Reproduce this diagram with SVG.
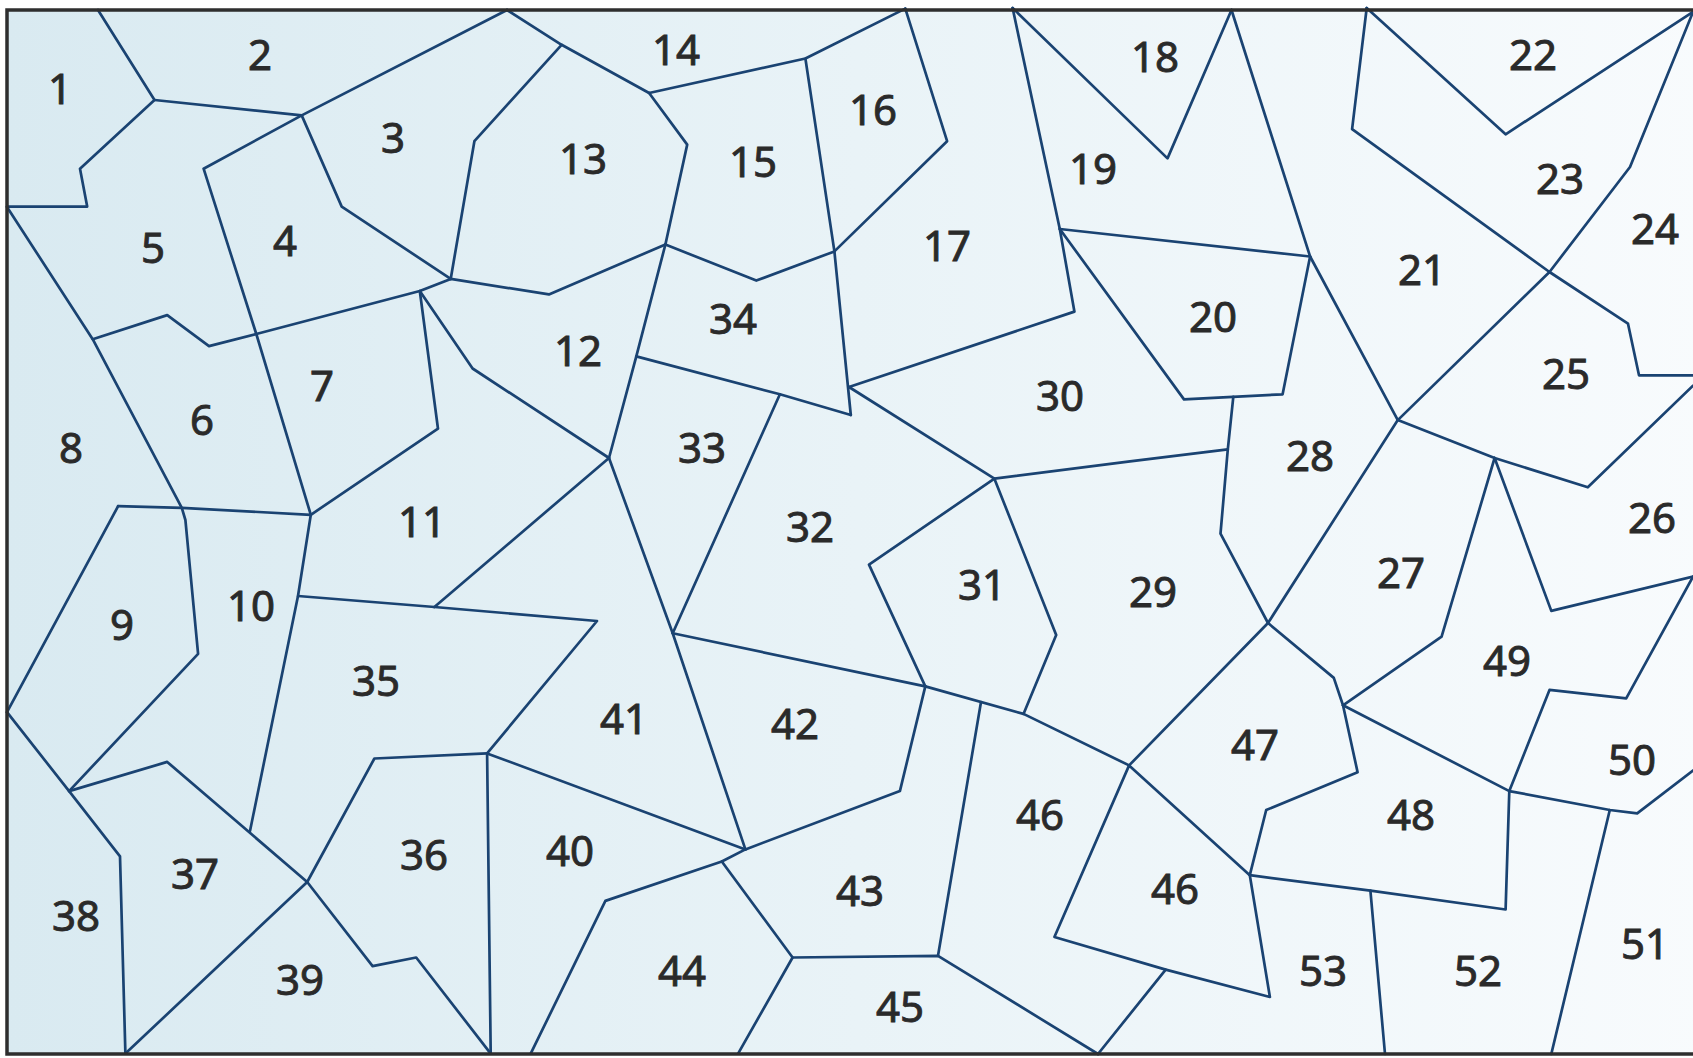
<svg xmlns="http://www.w3.org/2000/svg" width="1693" height="1058" viewBox="0 0 1693 1058">
<defs>
<linearGradient id="bg" x1="0" y1="0" x2="1" y2="0">
<stop offset="0" stop-color="#d9eaf1"/>
<stop offset="0.5" stop-color="#e9f3f7"/>
<stop offset="1" stop-color="#f8fbfd"/>
</linearGradient>
</defs>
<style>
.b{fill:none;stroke:#1a4372;stroke-width:2.7;stroke-linejoin:round;stroke-linecap:round}
.f{fill:none;stroke:#2e2e2e;stroke-width:3.5}
.t{font-family:"Noto Sans","Open Sans","DejaVu Sans",sans-serif;font-size:42px;fill:#2a2a2a;stroke:#2a2a2a;stroke-width:0.9;text-anchor:middle}
</style>
<rect x="0" y="0" width="1693" height="1058" fill="#ffffff"/>
<rect x="7" y="10" width="1700" height="1044" fill="url(#bg)"/>
<g id="borders">
<polyline class="b" points="98,10 154.5,100 80,168.7 87.2,206.6 7,206.6"/>
<polyline class="b" points="154.5,100 301.7,115.4 507,10"/>
<polyline class="b" points="301.7,115.4 203.6,168.7 256.3,334 310.8,514.8 298,596 250,831"/>
<polyline class="b" points="301.7,115.4 341.7,206.6 450.7,278.9"/>
<polyline class="b" points="507,10 561.6,44.8 474.4,141.2 450.7,278.9"/>
<polyline class="b" points="561.6,44.8 649.1,93 805.4,58.5 905.3,8.6"/>
<polyline class="b" points="649.1,93 687.2,144.6 665.4,244.5"/>
<polyline class="b" points="450.7,278.9 548.9,294.4 665.4,244.5"/>
<polyline class="b" points="665.4,244.5 756.3,280.6 834.4,251.4"/>
<polyline class="b" points="805.4,58.5 834.4,251.4"/>
<polyline class="b" points="905.3,8.6 947.1,141.2 834.4,251.4"/>
<polyline class="b" points="834.4,251.4 850.8,415"/>
<polyline class="b" points="636.3,356.4 779.9,394.3 850.8,415"/>
<polyline class="b" points="665.4,244.5 636.3,356.4 609,458 672.7,633.2 745.4,849.4"/>
<polyline class="b" points="450.7,278.9 419.8,291 256.3,334 209,346.1 167.2,315.1 92.7,339.2"/>
<polyline class="b" points="7,207 92.7,339.2 181.8,507.9 185.4,520 198.1,653.8 69.1,791.1"/>
<polyline class="b" points="118.1,506.2 181.8,507.9 310.8,514.8"/>
<polyline class="b" points="118.1,506.2 7,712.2"/>
<polyline class="b" points="419.8,291 438,428.7 310.8,514.8"/>
<polyline class="b" points="419.8,291 472.6,368.5 609,458"/>
<polyline class="b" points="298,596 434.4,607 597,621 487.1,753.4"/>
<polyline class="b" points="434.4,607 609,458"/>
<polyline class="b" points="7,712.2 69.1,791.1 120,856.3 125.4,1053.6"/>
<polyline class="b" points="69.1,791.1 167.2,761.9 307.2,882 372.6,966.1 416.2,957.5 490.7,1053.6"/>
<polyline class="b" points="487.1,753.4 374.4,758.5 307.2,882 125.4,1053.6"/>
<polyline class="b" points="487.1,753.4 490.7,1053.6"/>
<polyline class="b" points="487.1,753.4 745.4,849.4"/>
<polyline class="b" points="779.9,394.3 672.7,633.2"/>
<polyline class="b" points="672.7,633.2 925.3,686.4"/>
<polyline class="b" points="925.3,686.4 899.9,791.1 745.4,849.4"/>
<polyline class="b" points="745.4,849.4 721.8,861.5 605.4,900.9 530.7,1053.6"/>
<polyline class="b" points="721.8,861.5 792.6,957.5 738.1,1053.6"/>
<polyline class="b" points="792.6,957.5 938,955.8 1098,1054"/>
<polyline class="b" points="938,955.8 981,702"/>
<polyline class="b" points="925.3,686.4 1023.5,713.9 1129.1,765.4"/>
<polyline class="b" points="994.4,478.7 869,564.6 925.3,686.4"/>
<polyline class="b" points="994.4,478.7 1056.2,635 1023.5,713.9"/>
<polyline class="b" points="849,387 994.4,478.7 1130,461.4 1227.8,449.4"/>
<polyline class="b" points="1012.6,8 1059.8,229 1074.4,311.6 849,387"/>
<polyline class="b" points="1012.6,8 1167.5,158.4 1231.5,10"/>
<polyline class="b" points="1231.5,10 1310.1,256.5 1397.8,420.1"/>
<polyline class="b" points="1059.8,229 1310.1,256.5"/>
<polyline class="b" points="1310.1,256.5 1282.6,394.3 1184,399.4 1059.8,229"/>
<polyline class="b" points="1233.3,396.8 1227.8,449.4 1220.5,533.7 1268,623"/>
<polyline class="b" points="1549.5,272 1397.8,420.1 1268,623 1129.1,765.4"/>
<polyline class="b" points="1366.7,8 1505.6,134.3 1693,12"/>
<polyline class="b" points="1366.7,8 1352.1,129.1 1549.5,272 1628,323.7 1639,375.3 1693,375.3"/>
<polyline class="b" points="1693,12 1630,167 1549.5,272"/>
<polyline class="b" points="1397.8,420.1 1494.6,458 1587.8,487.3 1693,385.7"/>
<polyline class="b" points="1494.6,458 1441.6,636.7 1343,705.3"/>
<polyline class="b" points="1494.6,458 1551.3,610.9 1693,576.6"/>
<polyline class="b" points="1693,576.6 1626.2,698.4 1549.5,689.9 1509.3,791.1"/>
<polyline class="b" points="1509.3,791.1 1609.8,810 1637.2,813.4 1693,770.5"/>
<polyline class="b" points="1268,623 1333.8,677.9 1343,705.3 1357.6,772.2 1266.2,810 1249.8,875.2"/>
<polyline class="b" points="1343,705.3 1509.3,791.1 1505.6,909.5 1370.4,890.6 1249.8,875.2"/>
<polyline class="b" points="1129.1,765.4 1249.8,875.2 1269.9,997 1165.7,969.6 1054.4,937 1129.1,765.4"/>
<polyline class="b" points="1165.7,969.6 1098,1054"/>
<polyline class="b" points="1370.4,890.6 1385,1054"/>
<polyline class="b" points="1609.8,810 1551.3,1054"/>
</g>
<path class="f" d="M1700,10 H7 V1054 H1700"/>
<g id="labels">
<text class="t" x="60" y="104">1</text>
<text class="t" x="260" y="70">2</text>
<text class="t" x="393" y="153">3</text>
<text class="t" x="285" y="256">4</text>
<text class="t" x="153" y="263">5</text>
<text class="t" x="202" y="435">6</text>
<text class="t" x="322" y="401">7</text>
<text class="t" x="71" y="463">8</text>
<text class="t" x="122" y="640">9</text>
<text class="t" x="251" y="621">10</text>
<text class="t" x="422" y="537">11</text>
<text class="t" x="578" y="366">12</text>
<text class="t" x="583" y="174">13</text>
<text class="t" x="676" y="65">14</text>
<text class="t" x="753" y="177">15</text>
<text class="t" x="873" y="125">16</text>
<text class="t" x="947" y="261">17</text>
<text class="t" x="1155" y="72">18</text>
<text class="t" x="1093" y="184">19</text>
<text class="t" x="1213" y="332">20</text>
<text class="t" x="1422" y="285">21</text>
<text class="t" x="1533" y="70">22</text>
<text class="t" x="1560" y="194">23</text>
<text class="t" x="1655" y="244">24</text>
<text class="t" x="1566" y="389">25</text>
<text class="t" x="1652" y="533">26</text>
<text class="t" x="1401" y="588">27</text>
<text class="t" x="1310" y="471">28</text>
<text class="t" x="1153" y="607">29</text>
<text class="t" x="1060" y="411">30</text>
<text class="t" x="982" y="600">31</text>
<text class="t" x="810" y="542">32</text>
<text class="t" x="702" y="463">33</text>
<text class="t" x="733" y="334">34</text>
<text class="t" x="376" y="696">35</text>
<text class="t" x="424" y="870">36</text>
<text class="t" x="195" y="889">37</text>
<text class="t" x="76" y="931">38</text>
<text class="t" x="300" y="995">39</text>
<text class="t" x="570" y="866">40</text>
<text class="t" x="624" y="734">41</text>
<text class="t" x="795" y="739">42</text>
<text class="t" x="860" y="906">43</text>
<text class="t" x="682" y="986">44</text>
<text class="t" x="900" y="1022">45</text>
<text class="t" x="1040" y="830">46</text>
<text class="t" x="1175" y="904">46</text>
<text class="t" x="1255" y="760">47</text>
<text class="t" x="1411" y="830">48</text>
<text class="t" x="1507" y="676">49</text>
<text class="t" x="1632" y="775">50</text>
<text class="t" x="1645" y="959">51</text>
<text class="t" x="1478" y="986">52</text>
<text class="t" x="1323" y="986">53</text>
</g>
</svg>
